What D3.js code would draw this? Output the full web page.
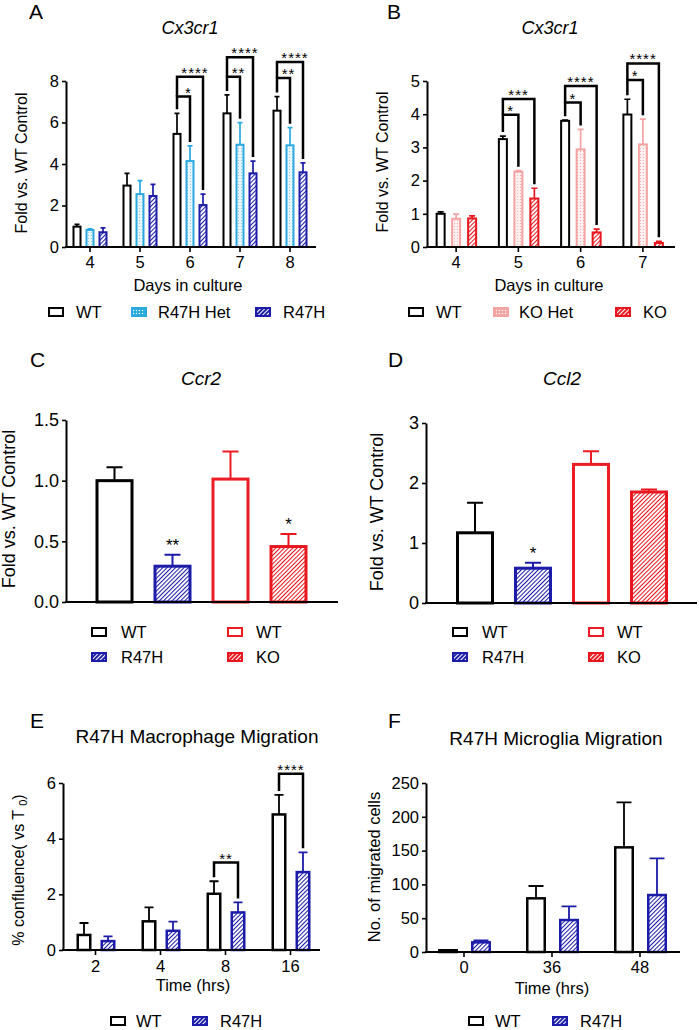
<!DOCTYPE html>
<html>
<head>
<meta charset="utf-8">
<script src="https://cdn.jsdelivr.net/npm/d3@7"></script>
<style>
body { margin: 0; background: #fff; }
text { font-family: "Liberation Sans", Arial, sans-serif; fill: #000; }
</style>
</head>
<body>
<script>
// A: Cx3cr1, R47H line
var daysA = ['4', '5', '6', '7', '8'];
var wtA = [0.98, 2.96, 5.45, 6.44, 6.57];
var wtASem = [0.11, 0.59, 0.99, 0.89, 0.68];
var hetA = [0.82, 2.55, 4.14, 4.93, 4.90];
var hetASem = [0.06, 0.65, 0.73, 1.06, 0.85];
var r47hA = [0.71, 2.46, 2.02, 3.55, 3.60];
var r47hASem = [0.21, 0.56, 0.53, 0.59, 0.45];
var sigA = [
  {g: 2, s: 1, y: 7.25, t: '*'}, {g: 2, s: 2, y: 8.2, t: '****'},
  {g: 3, s: 1, y: 8.2, t: '**'}, {g: 3, s: 2, y: 9.14, t: '****'},
  {g: 4, s: 1, y: 8.15, t: '**'}, {g: 4, s: 2, y: 8.92, t: '****'}
];

// B: Cx3cr1, KO line
var daysB = ['4', '5', '6', '7'];
var wtB = [1.00, 3.25, 3.80, 3.99];
var wtBSem = [0.06, 0.09, 0.02, 0.46];
var koHetB = [0.85, 2.27, 2.94, 3.09];
var koHetBSem = [0.14, 0.03, 0.60, 0.76];
var koB = [0.86, 1.46, 0.44, 0.12];
var koBSem = [0.08, 0.31, 0.10, 0.05];
var sigB = [
  {g: 1, s: 1, y: 3.98, t: '*'}, {g: 1, s: 2, y: 4.46, t: '***'},
  {g: 2, s: 1, y: 4.35, t: '*'}, {g: 2, s: 2, y: 4.85, t: '****'},
  {g: 3, s: 1, y: 5.03, t: '*'}, {g: 3, s: 2, y: 5.53, t: '****'}
];

// C / D: Ccr2 and Ccl2
var genoCD = ['R47H WT', 'R47H', 'KO WT', 'KO'];
var genoStyle = ['wt', 'r47h', 'wtRed', 'ko'];
var ccr2 = [1.00, 0.295, 1.013, 0.457];
var ccr2Sem = [0.11, 0.095, 0.227, 0.103];
var ccr2Sig = ['', '**', '', '*'];
var ccl2 = [1.17, 0.58, 2.31, 1.85];
var ccl2Sem = [0.50, 0.09, 0.22, 0.04];
var ccl2Sig = ['', '*', '', ''];

// E: macrophage migration
var hoursE = ['2', '4', '8', '16'];
var wtE = [0.54, 1.03, 2.02, 4.87];
var wtESem = [0.43, 0.50, 0.45, 0.70];
var r47hE = [0.32, 0.69, 1.35, 2.80];
var r47hESem = [0.17, 0.33, 0.36, 0.71];
var sigE = [{g: 2, s: 1, y: 3.14, t: '**'}, {g: 3, s: 1, y: 6.33, t: '****'}];

// F: microglia migration
var hoursF = ['0', '36', '48'];
var wtF = [2.5, 79.4, 154.8];
var wtFSem = [0.5, 18.2, 66.6];
var r47hF = [14.3, 47.3, 84.3];
var r47hFSem = [2.7, 20.2, 54.3];

var svg = d3.select('body').append('svg').attr('width', 699).attr('height', 1030);
var defs = svg.append('defs');

function hatch(id, color, bg, gap, sw) {
  var p = defs.append('pattern').attr('id', id)
    .attr('patternUnits', 'userSpaceOnUse')
    .attr('width', gap).attr('height', gap)
    .attr('patternTransform', 'rotate(45)');
  p.append('rect').attr('width', gap).attr('height', gap).attr('fill', bg);
  p.append('line').attr('x1', 0.5).attr('y1', 0).attr('x2', 0.5).attr('y2', gap)
    .attr('stroke', color).attr('stroke-width', sw);
}
function dots(id, color, bg, gap, r) {
  var p = defs.append('pattern').attr('id', id)
    .attr('patternUnits', 'userSpaceOnUse')
    .attr('width', gap).attr('height', gap);
  p.append('rect').attr('width', gap).attr('height', gap).attr('fill', bg);
  p.append('circle').attr('cx', gap / 2).attr('cy', gap / 2).attr('r', r).attr('fill', color);
}
hatch('hBlue', '#1c1ca8', '#fff', 3, 1.1);
hatch('hRed', '#e8161e', '#fff', 3, 1.1);
dots('dBlue', '#7cc6ec', '#eaf6fc', 3, 0.6);
dots('dPink', '#f4a3a3', '#fdf0f0', 3, 0.6);
hatch('hBlueL', '#fff', '#1c1ca8', 3, 1.1);
hatch('hRedL', '#fff', '#e8161e', 3, 1.1);
dots('dBlueL', '#fff', '#2aa9e0', 3, 0.7);
dots('dPinkL', '#fff', '#f4a3a3', 3, 0.7);

var styles = {
  wt: {stroke: '#000', fill: '#fff', leg: '#fff'},
  het: {stroke: '#2aa9e0', fill: 'url(#dBlue)', leg: 'url(#dBlueL)'},
  r47h: {stroke: '#1c1ca8', fill: 'url(#hBlue)', leg: 'url(#hBlueL)'},
  wtRed: {stroke: '#ec1c24', fill: '#fff', leg: '#fff'},
  koHet: {stroke: '#f4a3a3', fill: 'url(#dPink)', leg: 'url(#dPinkL)'},
  ko: {stroke: '#e8161e', fill: 'url(#hRed)', leg: 'url(#hRedL)'}
};

// bars for grouped panels: one entry per series per group
function grouped(cats, series, offsets) {
  return function(x) {
    var out = [];
    series.forEach(function(s, si) {
      s.vals.forEach(function(v, gi) {
        out.push({gi: gi, si: si, v: v, e: s.sem[gi], st: s.st,
          cx: x(cats[gi]) + x.bandwidth() / 2 + offsets[si]});
      });
    });
    return out;
  };
}
// bars for single-series panels (C, D)
function single(cats, vals, sem, sig) {
  return function(x) {
    return cats.map(function(c, i) {
      return {gi: i, si: 0, v: vals[i], e: sem[i], st: genoStyle[i], sig: sig[i],
        cx: x(c) + x.bandwidth() / 2};
    });
  };
}

function drawPanel(o) {
  var g = svg.append('g');
  var y = d3.scaleLinear().domain([0, o.yMax]).range([o.yBot, o.yTop]);
  var x = d3.scaleBand().domain(o.cats).range(o.band);
  var bars = o.bars(x);
  var byKey = {};
  bars.forEach(function(b) { byKey[b.gi + '_' + b.si] = b; });

  // error bars (upper only)
  g.selectAll('path.err').data(bars).enter().append('path')
    .attr('d', function(d) {
      var yt = y(d.v + d.e);
      return 'M' + d.cx + ',' + y(d.v) + 'V' + yt +
        'M' + (d.cx - o.capW / 2) + ',' + yt + 'H' + (d.cx + o.capW / 2);
    })
    .attr('fill', 'none')
    .attr('stroke', function(d) { return styles[d.st].stroke; })
    .attr('stroke-width', o.esw);

  g.selectAll('rect.bar').data(bars).enter().append('rect')
    .attr('x', function(d) { return d.cx - o.barW / 2 + o.sw / 2; })
    .attr('width', o.barW - o.sw)
    .attr('y', function(d) { return y(d.v); })
    .attr('height', function(d) { return Math.max(0, y(0) - y(d.v)); })
    .attr('fill', function(d) { return styles[d.st].fill; })
    .attr('stroke', function(d) { return styles[d.st].stroke; })
    .attr('stroke-width', o.sw);

  // stars right above a bar
  g.selectAll('text.sig').data(bars.filter(function(d) { return d.sig; })).enter()
    .append('text')
    .attr('x', function(d) { return d.cx; })
    .attr('y', function(d) { return y(d.v + d.e) - 4; })
    .attr('text-anchor', 'middle').style('font-size', '17px')
    .text(function(d) { return d.sig; });

  // comparison brackets
  var lastLine = {};
  (o.brackets || []).forEach(function(b) {
    var left = byKey[b.g + '_0'], right = byKey[b.g + '_' + b.s];
    var yl = y(b.y);
    var lb = lastLine[b.g] !== undefined ? lastLine[b.g] : y(left.v + left.e) - 4;
    var rb = y(right.v + right.e) - 4;
    lastLine[b.g] = yl;
    g.append('path')
      .attr('d', 'M' + left.cx + ',' + lb + 'V' + yl + 'H' + right.cx + 'V' + rb)
      .attr('fill', 'none').attr('stroke', '#000').attr('stroke-width', 2.5);
    g.append('text').attr('x', (left.cx + right.cx) / 2 + (o.starDx || 0)).attr('y', yl + 1)
      .attr('text-anchor', 'middle').style('font-size', '15px')
      .style('letter-spacing', '1px').text(b.t);
  });

  // axes
  var yg = g.append('g').attr('transform', 'translate(' + o.x0 + ',0)')
    .call(d3.axisLeft(y).tickValues(o.yTicks).tickFormat(o.yFmt)
      .tickSize(4).tickSizeOuter(0).tickPadding(3));
  yg.select('.domain').attr('stroke-width', 2);
  yg.selectAll('.tick line').attr('stroke-width', 1.6);
  yg.selectAll('text').style('font-size', o.tickFs + 'px');

  g.append('line').attr('x1', o.x0 - 1).attr('x2', o.x1)
    .attr('y1', o.yBot).attr('y2', o.yBot)
    .attr('stroke', '#000').attr('stroke-width', 2);
  if (o.xTicks) {
    var xg = g.append('g').attr('transform', 'translate(0,' + o.yBot + ')')
      .call(d3.axisBottom(x).tickSize(5).tickSizeOuter(0));
    xg.select('.domain').remove();
    xg.selectAll('.tick line').attr('stroke-width', 1.6);
    xg.selectAll('text').attr('y', o.xTickBase).attr('dy', 0)
      .style('font-size', o.tickFs + 'px');
  }

  // labels
  if (o.title) {
    g.append('text').attr('x', o.title[1]).attr('y', o.title[2])
      .attr('text-anchor', 'middle').style('font-size', o.title[3] + 'px')
      .style('font-style', o.italic ? 'italic' : 'normal').text(o.title[0]);
  }
  g.append('text').attr('x', o.letter[1]).attr('y', o.letter[2])
    .style('font-size', '21px').text(o.letter[0]);
  var yl = g.append('text')
    .attr('transform', 'translate(' + o.yLabel[1] + ',' + o.yLabel[2] + ') rotate(-90)')
    .attr('text-anchor', 'middle').style('font-size', o.yLabel[3] + 'px');
  if (o.yLabelSub) {
    yl.append('tspan').text(o.yLabel[0]);
    yl.append('tspan').attr('dy', 3).style('font-size', '11px').text(o.yLabelSub);
    yl.append('tspan').attr('dy', -3).text(')');
  } else {
    yl.text(o.yLabel[0]);
  }
  if (o.xLabel) {
    g.append('text').attr('x', o.xLabel[1]).attr('y', o.xLabel[2])
      .attr('text-anchor', 'middle').style('font-size', '16.5px').text(o.xLabel[0]);
  }

  // legend
  var lg = g.selectAll('g.leg').data(o.legend).enter().append('g');
  lg.append('rect')
    .attr('x', function(d) { return d.bx + 1; })
    .attr('y', function(d) { return d.y - 4; })
    .attr('width', 14).attr('height', 8)
    .attr('fill', function(d) { return styles[d.st].leg; })
    .attr('stroke', function(d) { return styles[d.st].stroke; })
    .attr('stroke-width', 2);
  lg.append('text')
    .attr('x', function(d) { return d.tx; })
    .attr('y', function(d) { return d.y + 6; })
    .style('font-size', '16.5px')
    .text(function(d) { return d.name; });
}

drawPanel({
  cats: daysA, band: [65, 315], x0: 66, x1: 316, yBot: 247, yTop: 81,
  yMax: 8, yTicks: [0, 2, 4, 6, 8], yFmt: d3.format('d'), tickFs: 16.5,
  bars: grouped(daysA, [
    {vals: wtA, sem: wtASem, st: 'wt'},
    {vals: hetA, sem: hetASem, st: 'het'},
    {vals: r47hA, sem: r47hASem, st: 'r47h'}], [-13, 0, 13]),
  barW: 9, sw: 2, esw: 1.7, capW: 5, brackets: sigA, starDx: 5,
  xTicks: true, xTickBase: 21,
  title: ['Cx3cr1', 190, 34, 18], italic: true, letter: ['A', 29, 19],
  yLabel: ['Fold vs. WT Control', 27, 163, 16], xLabel: ['Days in culture', 188, 291],
  legend: [
    {bx: 48, tx: 76, y: 312, st: 'wt', name: 'WT'},
    {bx: 131, tx: 158, y: 312, st: 'het', name: 'R47H Het'},
    {bx: 255, tx: 283, y: 312, st: 'r47h', name: 'R47H'}]
});

drawPanel({
  cats: daysB, band: [425, 674], x0: 427, x1: 675, yBot: 247, yTop: 81,
  yMax: 5, yTicks: [0, 1, 2, 3, 4, 5], yFmt: d3.format('d'), tickFs: 16.5,
  bars: grouped(daysB, [
    {vals: wtB, sem: wtBSem, st: 'wt'},
    {vals: koHetB, sem: koHetBSem, st: 'koHet'},
    {vals: koB, sem: koBSem, st: 'ko'}], [-15.5, 0, 16]),
  barW: 10, sw: 2, esw: 1.7, capW: 6, brackets: sigB,
  xTicks: true, xTickBase: 21,
  title: ['Cx3cr1', 550, 34, 18], italic: true, letter: ['B', 387, 19],
  yLabel: ['Fold vs. WT Control', 388, 162, 16], xLabel: ['Days in culture', 549, 291],
  legend: [
    {bx: 408, tx: 436, y: 312, st: 'wt', name: 'WT'},
    {bx: 493, tx: 519, y: 312, st: 'koHet', name: 'KO Het'},
    {bx: 615, tx: 643, y: 312, st: 'ko', name: 'KO'}]
});

drawPanel({
  cats: genoCD, band: [85.5, 317.5], x0: 66, x1: 338, yBot: 602, yTop: 420,
  yMax: 1.5, yTicks: [0, 0.5, 1, 1.5], yFmt: d3.format('.1f'), tickFs: 18,
  bars: single(genoCD, ccr2, ccr2Sem, ccr2Sig),
  barW: 38, sw: 3, esw: 2, capW: 16, xTicks: false,
  title: ['Ccr2', 201, 385, 19], italic: true, letter: ['C', 30, 367],
  yLabel: ['Fold vs. WT Control', 15, 509, 18],
  legend: [
    {bx: 91, tx: 121, y: 632, st: 'wt', name: 'WT'},
    {bx: 227, tx: 256, y: 632, st: 'wtRed', name: 'WT'},
    {bx: 91, tx: 121, y: 657, st: 'r47h', name: 'R47H'},
    {bx: 227, tx: 256, y: 657, st: 'ko', name: 'KO'}]
});

drawPanel({
  cats: genoCD, band: [446, 678], x0: 426, x1: 697, yBot: 603, yTop: 423,
  yMax: 3, yTicks: [0, 1, 2, 3], yFmt: d3.format('d'), tickFs: 18,
  bars: single(genoCD, ccl2, ccl2Sem, ccl2Sig),
  barW: 38, sw: 3, esw: 2, capW: 16, xTicks: false,
  title: ['Ccl2', 562, 385, 19], italic: true, letter: ['D', 388, 367],
  yLabel: ['Fold vs. WT Control', 383, 512, 18],
  legend: [
    {bx: 452, tx: 482, y: 632, st: 'wt', name: 'WT'},
    {bx: 588, tx: 617, y: 632, st: 'wtRed', name: 'WT'},
    {bx: 452, tx: 482, y: 657, st: 'r47h', name: 'R47H'},
    {bx: 588, tx: 617, y: 657, st: 'ko', name: 'KO'}]
});

drawPanel({
  cats: hoursE, band: [63, 323], x0: 63, x1: 320, yBot: 950, yTop: 783,
  yMax: 6, yTicks: [0, 2, 4, 6], yFmt: d3.format('d'), tickFs: 16.5,
  bars: grouped(hoursE, [
    {vals: wtE, sem: wtESem, st: 'wt'},
    {vals: r47hE, sem: r47hESem, st: 'r47h'}], [-11.5, 12.5]),
  barW: 15, sw: 2.5, esw: 1.8, capW: 9, brackets: sigE,
  xTicks: true, xTickBase: 22,
  title: ['R47H Macrophage Migration', 197, 743, 19], italic: false, letter: ['E', 30, 728],
  yLabel: ['% confluence( vs T ', 24, 870, 16], yLabelSub: '0',
  xLabel: ['Time (hrs)', 193, 991],
  legend: [
    {bx: 110, tx: 136, y: 1021, st: 'wt', name: 'WT'},
    {bx: 192, tx: 220, y: 1021, st: 'r47h', name: 'R47H'}]
});

drawPanel({
  cats: hoursF, band: [420, 684], x0: 426, x1: 680, yBot: 952, yTop: 783,
  yMax: 250, yTicks: [0, 50, 100, 150, 200, 250], yFmt: d3.format('d'), tickFs: 16.5,
  bars: grouped(hoursF, [
    {vals: wtF, sem: wtFSem, st: 'wt'},
    {vals: r47hF, sem: r47hFSem, st: 'r47h'}], [-16, 17]),
  barW: 20, sw: 2.5, esw: 1.8, capW: 15,
  xTicks: true, xTickBase: 21,
  title: ['R47H Microglia Migration', 556, 745, 19], italic: false, letter: ['F', 388, 728],
  yLabel: ['No. of migrated cells', 380, 867, 16.5],
  xLabel: ['Time (hrs)', 552, 994],
  legend: [
    {bx: 468, tx: 495, y: 1021, st: 'wt', name: 'WT'},
    {bx: 552, tx: 580, y: 1021, st: 'r47h', name: 'R47H'}]
});
</script>
</body>
</html>
